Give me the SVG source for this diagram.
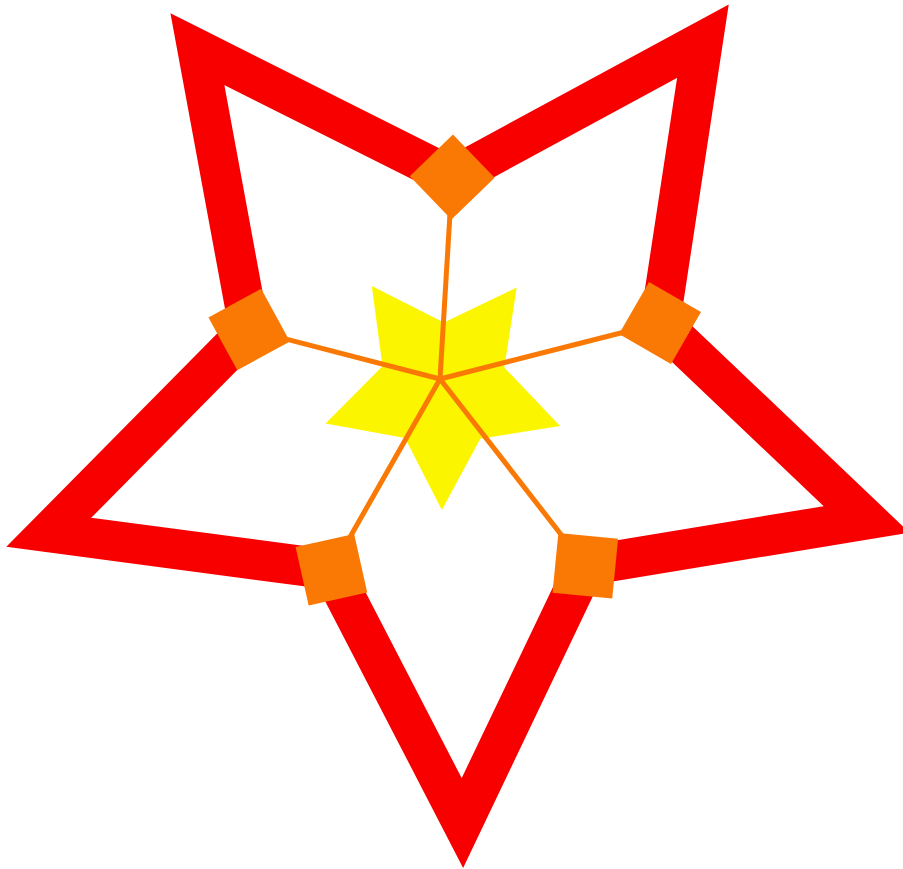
<svg xmlns="http://www.w3.org/2000/svg" width="903" height="869" viewBox="0 0 903 869">
<style>
.outline{fill:none;stroke:#F80000;stroke-width:40;stroke-linejoin:miter;stroke-miterlimit:10}
.core{fill:#FBF600}
.edge{stroke:#FA7905;stroke-width:5;fill:none}
.node{fill:#FA7905}
</style>
<defs>
<rect id="sq" x="-30" y="-30" width="60" height="60"/>
</defs>
<g id="star">
<polygon class="outline" points="197.4,49.1 452.2,177 702.9,41.2 660,323 866.6,519.4 585.3,565.7 462.4,823 331.4,569.7 48.8,532.3 249.2,329.5"/>
</g>
<g id="core">
<polygon class="core" points="441.9,509.9 405,438 325.5,423.5 382.5,366.2 371.8,286.1 443.9,322.6 516.7,287.6 504.3,367.5 560.1,425.9 480.3,438.8"/>
</g>
<g id="connectors">
<line class="edge" x1="440" y1="379" x2="452.2" y2="177"/>
<line class="edge" x1="440" y1="379" x2="249.2" y2="329.5"/>
<line class="edge" x1="440" y1="379" x2="660" y2="323"/>
<line class="edge" x1="440" y1="379" x2="585.3" y2="565.7"/>
<line class="edge" x1="440" y1="379" x2="331.4" y2="569.7"/>
</g>
<g id="node-top"><use href="#sq" class="node" transform="translate(452.2,177) rotate(46)"/></g>
<g id="node-left"><use href="#sq" class="node" transform="translate(249.2,329.5) rotate(-28.7)"/></g>
<g id="node-right"><use href="#sq" class="node" transform="translate(660,323) rotate(30)"/></g>
<g id="node-bottom-right"><use href="#sq" class="node" transform="translate(585.3,565.7) rotate(5.6)"/></g>
<g id="node-bottom-left"><use href="#sq" class="node" transform="translate(331.4,569.7) rotate(-12.6)"/></g>
</svg>
